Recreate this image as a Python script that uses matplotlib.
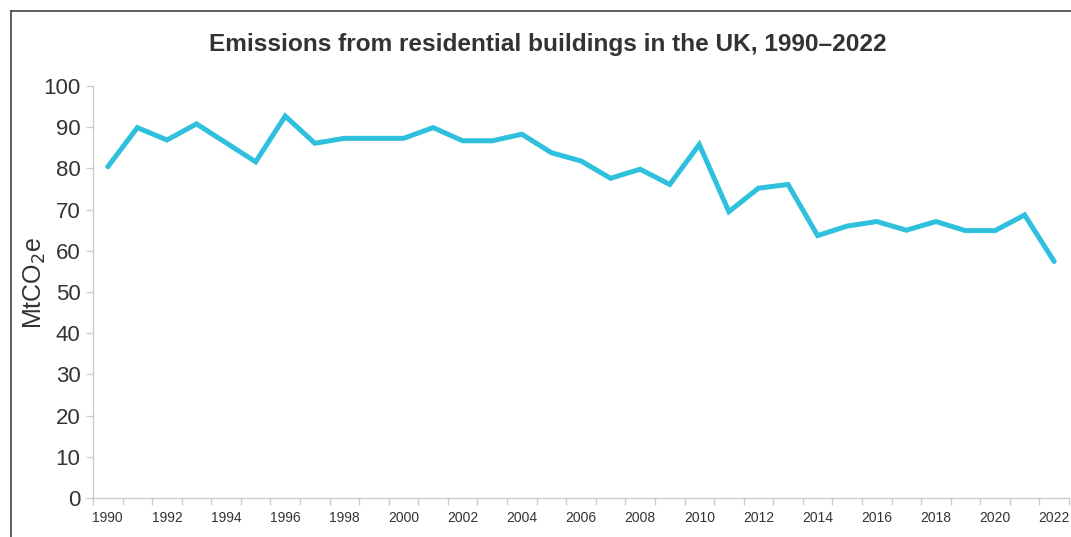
import numpy as np
import matplotlib
matplotlib.use("Agg")
import matplotlib.pyplot as plt
from matplotlib.lines import Line2D

# data
years = list(range(1990, 2023))
emissions = [80.4, 89.9, 86.9, 90.8, 86.2, 81.6, 92.7, 86.1, 87.3, 87.3,
             87.3, 89.9, 86.7, 86.7, 88.3, 83.8, 81.8, 77.6, 79.8, 76.1,
             85.8, 69.5, 75.2, 76.1, 63.7, 66.0, 67.1, 65.0, 67.1, 64.9,
             64.9, 68.7, 57.4]
tick_years = years[::2]
y_ticks = [0, 10, 20, 30, 40, 50, 60, 70, 80, 90, 100]

plt.rcParams['font.family'] = ['Liberation Sans', 'DejaVu Sans']
text_col = '#333333'
axis_col = '#cccccc'

fig = plt.figure(figsize=(10.71, 5.37), dpi=100)
ax = fig.add_axes([93 / 1071, 39 / 537, 976 / 1071, 412 / 537])

x = np.arange(len(years))
ax.plot(x, emissions, color='#2EC0DC', lw=3.6, solid_joinstyle='miter',
        solid_capstyle='round', clip_on=False)

ax.set_xlim(-0.5, len(years) - 0.5)
ax.set_ylim(0, 100)

# labels at category centres, tick marks at category boundaries
ax.set_xticks([years.index(y) for y in tick_years])
ax.set_xticklabels([str(y) for y in tick_years], fontsize=10, color=text_col)
ax.set_xticks(np.arange(-0.5, len(years)), minor=True)
ax.tick_params(axis='x', which='major', length=0, pad=9)
ax.tick_params(axis='x', which='minor', length=5, color=axis_col, width=1)

ax.set_yticks(y_ticks)
ax.set_yticklabels([str(v) for v in y_ticks], fontsize=16, color=text_col)
ax.tick_params(axis='y', length=5, color=axis_col, width=1, pad=4)

for side in ['top', 'right']:
    ax.spines[side].set_visible(False)
for side in ['left', 'bottom']:
    ax.spines[side].set_color(axis_col)
    ax.spines[side].set_linewidth(1)

ax.set_ylabel('MtCO$_2$e', fontsize=18, color=text_col)
ax.yaxis.set_label_coords(-45 / 976, 0.522)

fig.text(548 / 1071, 1 - 45 / 537, 'Emissions from residential buildings in the UK, 1990\u20132022',
         ha='center', va='center', fontsize=17.6, fontweight='bold', color=text_col)

# outer frame (top and left edges visible)
fig.add_artist(Line2D([11 / 1071, 11 / 1071], [0, 1 - 11 / 537], transform=fig.transFigure,
                      color='#444444', lw=1.2))
fig.add_artist(Line2D([11 / 1071, 1], [1 - 11 / 537, 1 - 11 / 537], transform=fig.transFigure,
                      color='#444444', lw=1.2))

fig.savefig('out.png', dpi=100)
